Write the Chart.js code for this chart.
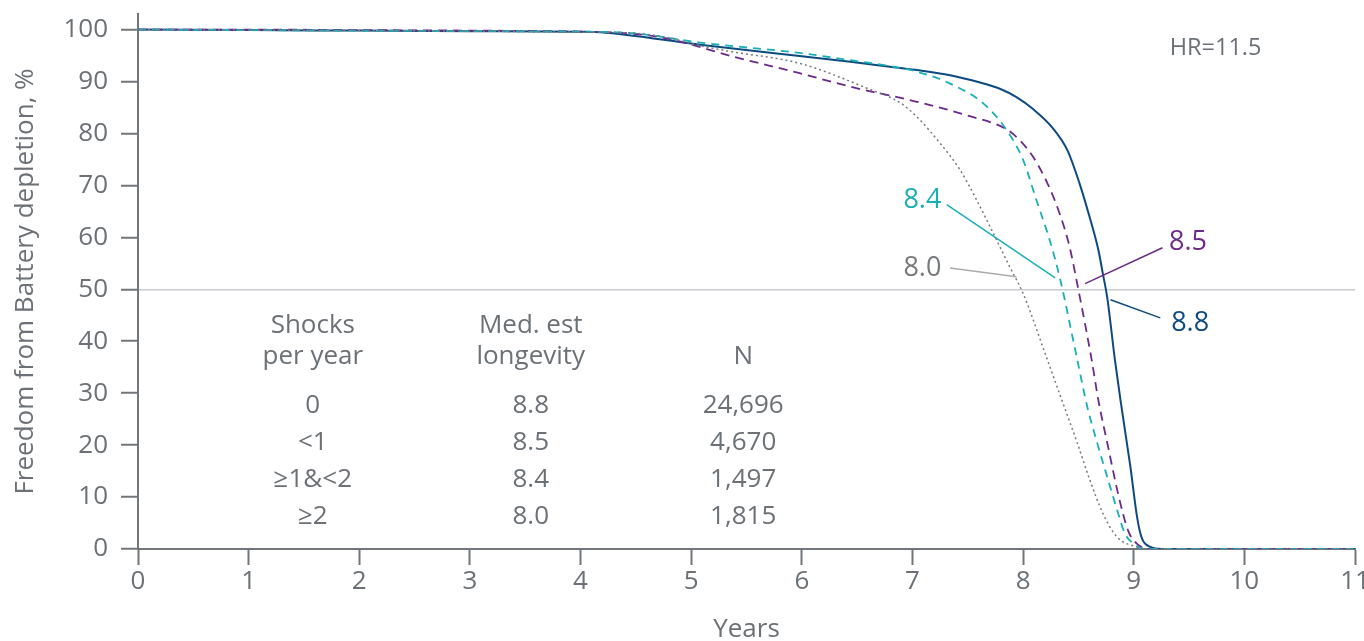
<!DOCTYPE html>
<html><head><meta charset="utf-8">
<script src="https://cdn.jsdelivr.net/npm/chart.js@4.4.0/dist/chart.umd.min.js"></script>
<style>html,body{margin:0;padding:0;background:#fff;overflow:hidden}#wrap{width:1364px;height:641px;position:relative}</style>
</head><body><div id="wrap"><canvas id="c" width="1364" height="641"></canvas></div>
<script>
// ---- data ----
const yearsShock0 = [0, 1, 2, 3, 4, 4.18, 5.08, 5.98, 6.44, 6.89, 7.04, 7.34, 7.61, 7.79, 7.94, 8.09, 8.27, 8.40, 8.51, 8.60, 8.68, 8.72, 8.76, 8.83, 8.88, 8.97, 9.03, 9.07, 9.15, 9.25, 10, 11];
const survShock0  = [100, 99.9, 99.8, 99.7, 99.6, 99.5, 97.1, 94.9, 93.8, 92.6, 92.2, 91.2, 89.8, 88.6, 87.0, 84.7, 81.0, 76.8, 70.4, 64.0, 57.6, 53.1, 48.5, 36.4, 28.7, 15.8, 6.2, 2.3, 0.4, 0, 0, 0];

const yearsShockLt1 = [0, 1, 2, 3, 4, 4.48, 4.78, 5.38, 5.98, 6.44, 7.04, 7.49, 7.85, 7.97, 8.09, 8.22, 8.33, 8.42, 8.50, 8.62, 8.68, 8.77, 8.86, 8.95, 9.03, 9.15, 10, 11];
const survShockLt1  = [100, 100, 99.9, 99.8, 99.6, 99.2, 98.3, 94.8, 91.6, 89.0, 86.1, 83.5, 80.8, 78.7, 75.5, 70.4, 64.6, 58.2, 49.9, 36.4, 28.7, 19.5, 10.5, 3.5, 1.0, 0, 0, 0];

const yearsShock1to2 = [0, 1, 2, 3, 4, 4.48, 5.08, 5.98, 6.44, 6.73, 7.04, 7.34, 7.64, 7.85, 8.00, 8.12, 8.24, 8.33, 8.49, 8.58, 8.67, 8.76, 8.85, 8.92, 9.00, 9.10, 10, 11];
const survShock1to2  = [100, 99.9, 99.8, 99.7, 99.6, 99.3, 97.5, 95.5, 94.1, 93.2, 91.9, 89.6, 85.8, 80.7, 74.9, 67.2, 59.5, 52.4, 36.4, 27.4, 20.4, 13.9, 7.5, 3.0, 1.0, 0, 0, 0];

const yearsShockGe2 = [0, 1, 2, 3, 4, 4.48, 4.78, 5.08, 5.38, 5.98, 6.59, 6.89, 7.04, 7.25, 7.43, 7.58, 7.73, 7.88, 8.00, 8.22, 8.36, 8.49, 8.60, 8.72, 8.85, 9.03, 9.15, 10, 11];
const survShockGe2  = [100, 99.9, 99.8, 99.7, 99.5, 99.3, 98.5, 96.9, 95.7, 93.5, 88.7, 85.9, 83.2, 78.1, 73.0, 67.2, 60.8, 54.3, 49.2, 36.4, 28.1, 20.4, 13.5, 6.9, 2.3, 0.4, 0, 0, 0];

const shockGroups   = ['0', '<1', '≥1&<2', '≥2'];
const medLongevity  = ['8.8', '8.5', '8.4', '8.0'];
const patientsN     = ['24,696', '4,670', '1,497', '1,815'];
const tableHeaders  = [['Shocks', 'per year'], ['Med. est', 'longevity'], ['', 'N']];
const medianLabels  = ['8.8', '8.5', '8.4', '8.0'];
const hazardRatio   = 'HR=11.5';
const xTickValues   = [0, 1, 2, 3, 4, 5, 6, 7, 8, 9, 10, 11];
const yTickValues   = [0, 10, 20, 30, 40, 50, 60, 70, 80, 90, 100];

// ---- styles ----
const NAVY = '#0d4a80', PURPLE = '#6b2a8c', TEAL = '#18afb6', GREY = '#76797c', TXT = '#6b7176', AXIS = '#70767b';
const FONT = '"Open Sans", "DejaVu Sans", sans-serif';

const pts = (xs, ys) => xs.map((x, i) => ({x, y: ys[i]}));

// annotation anchors in data coordinates
const annotations = [
  {text: medianLabels[2], color: TEAL,   tx: 7.09, ty: 67.2, line: [7.31, 66.3, 8.29, 52.2], lineColor: TEAL},
  {text: medianLabels[3], color: GREY,   tx: 7.09, ty: 54.1, line: [7.34, 54.1, 7.94, 52.4], lineColor: '#a9acaf'},
  {text: medianLabels[1], color: PURPLE, tx: 9.49, ty: 59.0, line: [9.26, 58.0, 8.56, 51.1], lineColor: PURPLE},
  {text: medianLabels[0], color: NAVY,   tx: 9.51, ty: 43.5, line: [9.24, 44.5, 8.79, 48.0], lineColor: NAVY},
];
const tableCols = [1.58, 3.55, 5.47];
const tableHeadRows = [43.0, 37.0];
const tableBodyRows = [27.7, 20.4, 13.3, 6.2];

const overlay = {
  id: 'overlay',
  afterDatasetsDraw(chart) {
    const {ctx, scales: {x, y}} = chart;
    ctx.save();
    ctx.textAlign = 'center';
    ctx.textBaseline = 'middle';
    annotations.forEach(a => {
      ctx.strokeStyle = a.lineColor; ctx.lineWidth = 1.5; ctx.setLineDash([]);
      ctx.beginPath();
      ctx.moveTo(x.getPixelForValue(a.line[0]), y.getPixelForValue(a.line[1]));
      ctx.lineTo(x.getPixelForValue(a.line[2]), y.getPixelForValue(a.line[3]));
      ctx.stroke();
      ctx.fillStyle = a.color; ctx.font = '27px ' + FONT;
      ctx.fillText(a.text, x.getPixelForValue(a.tx), y.getPixelForValue(a.ty));
    });
    ctx.fillStyle = TXT; ctx.font = '23.5px ' + FONT;
    ctx.fillText(hazardRatio, x.getPixelForValue(9.74), y.getPixelForValue(96.3));
    ctx.font = '26px ' + FONT;
    tableHeaders.forEach((h, c) => h.forEach((t, r) => {
      if (t) ctx.fillText(t, x.getPixelForValue(tableCols[c]), y.getPixelForValue(tableHeadRows[r]));
    }));
    [shockGroups, medLongevity, patientsN].forEach((col, c) => col.forEach((t, r) => {
      ctx.fillText(t, x.getPixelForValue(tableCols[c]), y.getPixelForValue(tableBodyRows[r]));
    }));
    ctx.restore();
  }
};

const lineDs = (label, data, color, width, dash) => ({
  label, data, borderColor: color, borderWidth: width, borderDash: dash,
  pointRadius: 0, fill: false, cubicInterpolationMode: 'monotone', tension: 0
});

new Chart(document.getElementById('c'), {
  type: 'line',
  data: {
    datasets: [
      lineDs('≥2', pts(yearsShockGe2, survShockGe2), GREY, 1.5, [2, 3]),
      lineDs('≥1&<2', pts(yearsShock1to2, survShock1to2), TEAL, 1.8, [8, 6]),
      lineDs('<1', pts(yearsShockLt1, survShockLt1), PURPLE, 1.8, [9, 6]),
      lineDs('0', pts(yearsShock0, survShock0), NAVY, 2, []),
    ]
  },
  options: {
    responsive: false, animation: false, devicePixelRatio: 1,
    layout: {padding: {top: 14, right: 9, left: 0, bottom: 0}},
    plugins: {legend: {display: false}, tooltip: {enabled: false}},
    scales: {
      x: {
        type: 'linear', min: 0, max: 11,
        afterBuildTicks: s => { s.ticks = xTickValues.map(v => ({value: v})); },
        afterFit: s => { s.paddingLeft = 0; s.paddingRight = 0; s.height = 92; },
        border: {display: true, color: AXIS, width: 2},
        grid: {drawOnChartArea: false, tickLength: 16, tickColor: AXIS, tickWidth: 2},
        ticks: {font: {family: FONT, size: 26}, color: TXT, padding: 1, maxRotation: 0},
        title: {display: true, text: 'Years', font: {family: FONT, size: 26, lineHeight: 1.0}, color: TXT, padding: {top: 0, bottom: -2}}
      },
      y: {
        type: 'linear', min: 0, max: 103,
        afterBuildTicks: s => { s.ticks = yTickValues.map(v => ({value: v})); },
        afterFit: s => { s.width = 138; s.paddingTop = 0; s.paddingBottom = 0; },
        border: {display: true, color: AXIS, width: 2},
        grid: {
          drawOnChartArea: true,
          color: c => (c.tick && c.tick.value === 50) ? '#c8ccd0' : 'rgba(0,0,0,0)',
          lineWidth: 1.5, tickLength: 17, tickColor: AXIS, tickWidth: 2
        },
        ticks: {font: {family: FONT, size: 26}, color: TXT, padding: 13},
        title: {display: true, text: 'Freedom from Battery depletion, %', font: {family: FONT, size: 26}, color: TXT, padding: {top: 10, bottom: 4}}
      }
    }
  },
  plugins: [overlay]
});
</script></body></html>
